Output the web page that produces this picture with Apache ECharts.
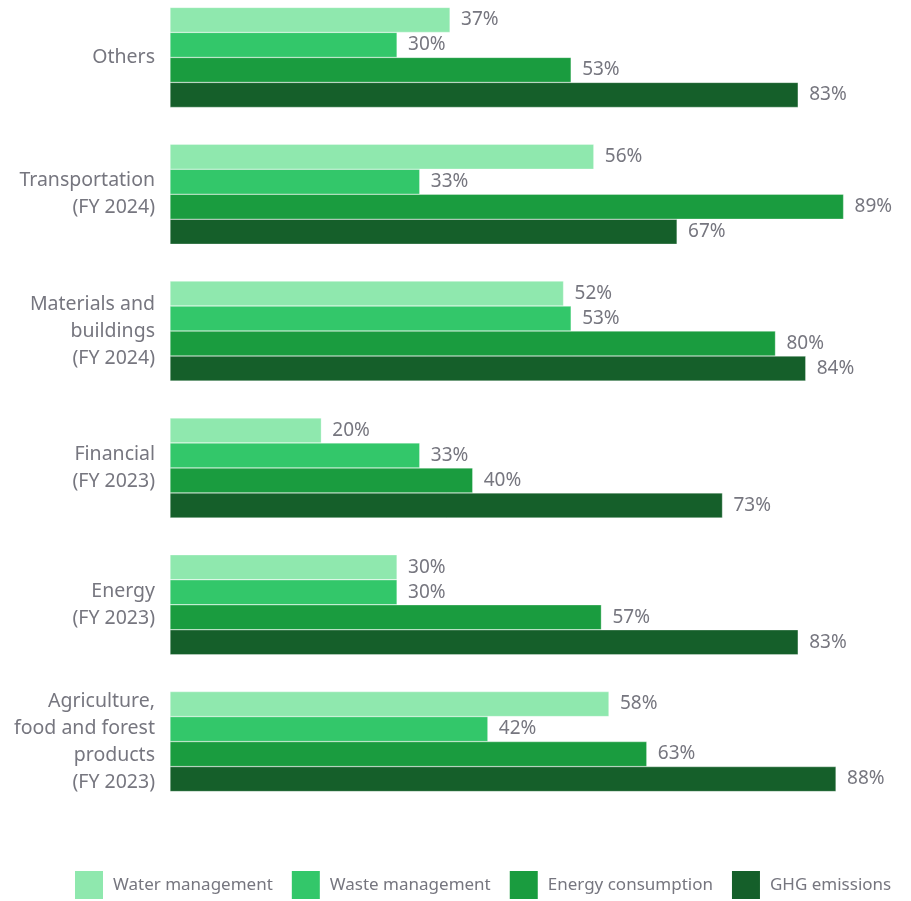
<!DOCTYPE html>
<html>
<head>
<meta charset="utf-8">
<script src="https://cdn.jsdelivr.net/npm/echarts@6/dist/echarts.min.js"></script>
<style>
  html, body { margin: 0; padding: 0; background: #fff; }
  #chart { width: 911px; height: 901px; }
</style>
</head>
<body>
<div id="chart"></div>
<script>
// categories, top to bottom
const sectors = [
  'Others',
  'Transportation\n(FY 2024)',
  'Materials and\nbuildings\n(FY 2024)',
  'Financial\n(FY 2023)',
  'Energy\n(FY 2023)',
  'Agriculture,\nfood and forest\nproducts\n(FY 2023)'
]
const waterMgmt = [37, 56, 52, 20, 30, 58]
const wasteMgmt = [30, 33, 53, 33, 30, 42]
const energyUse = [53, 89, 80, 40, 57, 63]
const ghgEmissions = [83, 67, 84, 73, 83, 88]

const seriesNames = ['Water management', 'Waste management', 'Energy consumption', 'GHG emissions']
const colors = ['#8fe8ae', '#33c76a', '#1a9c3f', '#155f2a']
const textColor = '#76767f'
const fontFamily = '"Noto Sans", sans-serif'

const chart = echarts.init(document.getElementById('chart'))

const makeSeries = (name, data, i) => ({
  name,
  type: 'bar',
  data,
  barWidth: 25,
  barGap: '0%',
  itemStyle: { color: colors[i], borderColor: 'rgba(255,255,255,0.6)', borderWidth: 0.5 },
  label: {
    show: true,
    position: 'right',
    distance: 11,
    formatter: '{c}%',
    color: textColor,
    fontSize: 19,
    fontFamily
  }
})

chart.setOption({
  animation: false,
  grid: { left: 170, top: -11, width: 719, height: 821, outerBoundsMode: 'none', containLabel: false },
  legend: {
    top: 866,
    left: 70,
    itemWidth: 28,
    itemHeight: 28,
    itemGap: 19,
    icon: 'rect',
    itemStyle: { borderWidth: 0 },
    textStyle: { color: textColor, fontSize: 17, fontFamily, padding: [0, 0, 0, 5] },
    data: seriesNames
  },
  xAxis: {
    type: 'value',
    min: 0,
    max: 95,
    show: false
  },
  yAxis: {
    type: 'category',
    inverse: true,
    data: sectors,
    axisLine: { show: false },
    axisTick: { show: false },
    axisLabel: {
      margin: 15,
      color: textColor,
      fontSize: 19.5,
      lineHeight: 27,
      fontFamily,
      align: 'right'
    }
  },
  series: [
    makeSeries(seriesNames[0], waterMgmt, 0),
    makeSeries(seriesNames[1], wasteMgmt, 1),
    makeSeries(seriesNames[2], energyUse, 2),
    makeSeries(seriesNames[3], ghgEmissions, 3)
  ]
})

window.addEventListener('resize', () => {
  chart.resize()
})
</script>
</body>
</html>
